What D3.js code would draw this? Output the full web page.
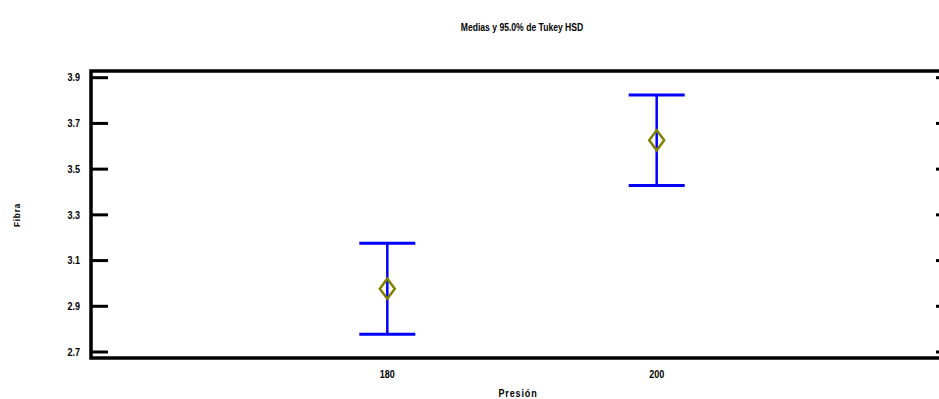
<!DOCTYPE html>
<html>
<head>
<meta charset="utf-8">
<script src="https://cdn.jsdelivr.net/npm/d3@7"></script>
<style>
  body { margin: 0; background: #fff; }
  text { font-family: "Liberation Sans Narrow", "Liberation Sans", Arial, sans-serif; font-weight: bold; }
</style>
</head>
<body>
<svg id="chart" width="939" height="399"></svg>
<script>
// data
const groups = [180, 200]
const means = [2.977, 3.626]
const halfWidth = [0.199, 0.198]
const yTicks = [2.7, 2.9, 3.1, 3.3, 3.5, 3.7, 3.9]

const svg = d3.select("#chart")
const mLeft = 91, mTop = 71, mBottom = 358, mRight = 953

const x = d3.scaleLinear().domain([158, 222]).range([mLeft, mRight])
const y = d3.scaleLinear().domain([2.7, 3.9]).range([352, 77.7])

// narrow-looking text: squeeze horizontally
function label(px, py, str, size, anchor, rot) {
  const g = svg.append("g")
    .attr("transform", `translate(${px},${py})` + (rot ? ` rotate(${rot})` : "") + " scale(0.86,1)")
  return g.append("text")
    .attr("dy", "0.35em")
    .attr("text-anchor", anchor)
    .attr("font-size", size)
    .text(str)
}

// title
label(522, 27, "Medias y 95.0% de Tukey HSD", 10, "middle")

// frame
svg.append("rect")
  .attr("x", mLeft).attr("y", mTop)
  .attr("width", mRight - mLeft).attr("height", mBottom - mTop)
  .attr("fill", "none").attr("stroke", "#000").attr("stroke-width", 3.5)

// axis ticks + labels
const ticks = svg.append("g")
ticks.selectAll("line.l").data(yTicks).join("line")
  .attr("class", "l")
  .attr("x1", mLeft).attr("x2", mLeft + 17)
  .attr("y1", d => y(d)).attr("y2", d => y(d))
  .attr("stroke", "#000").attr("stroke-width", 3)
ticks.selectAll("line.r").data(yTicks).join("line")
  .attr("class", "r")
  .attr("x1", mRight - 17).attr("x2", mRight)
  .attr("y1", d => y(d)).attr("y2", d => y(d))
  .attr("stroke", "#000").attr("stroke-width", 3)
yTicks.forEach(d => label(80, y(d), d.toFixed(1), 10.5, "end"))

// x labels
groups.forEach(d => label(x(d), 374, d, 10.5, "middle"))

label(518, 393, "Presión", 10.5, "middle").attr("letter-spacing", 1)
label(17, 215, "Fibra", 9.5, "middle", -90).attr("letter-spacing", 1)

// error bars
const bars = svg.append("g")
groups.forEach((g, i) => {
  const cx = x(g)
  const lo = y(means[i] - halfWidth[i]), hi = y(means[i] + halfWidth[i])
  bars.append("line").attr("x1", cx).attr("x2", cx).attr("y1", lo).attr("y2", hi)
    .attr("stroke", "#0000ff").attr("stroke-width", 2.5)
  ;[lo, hi].forEach(yy => {
    bars.append("line").attr("x1", cx - 28).attr("x2", cx + 28).attr("y1", yy).attr("y2", yy)
      .attr("stroke", "#0000ff").attr("stroke-width", 3)
  })
  const cy = y(means[i])
  bars.append("path")
    .attr("d", `M${cx},${cy - 10}L${cx + 7.5},${cy}L${cx},${cy + 10}L${cx - 7.5},${cy}Z`)
    .attr("fill", "none").attr("stroke", "#808000").attr("stroke-width", 2.5)
})
</script>
</body>
</html>
